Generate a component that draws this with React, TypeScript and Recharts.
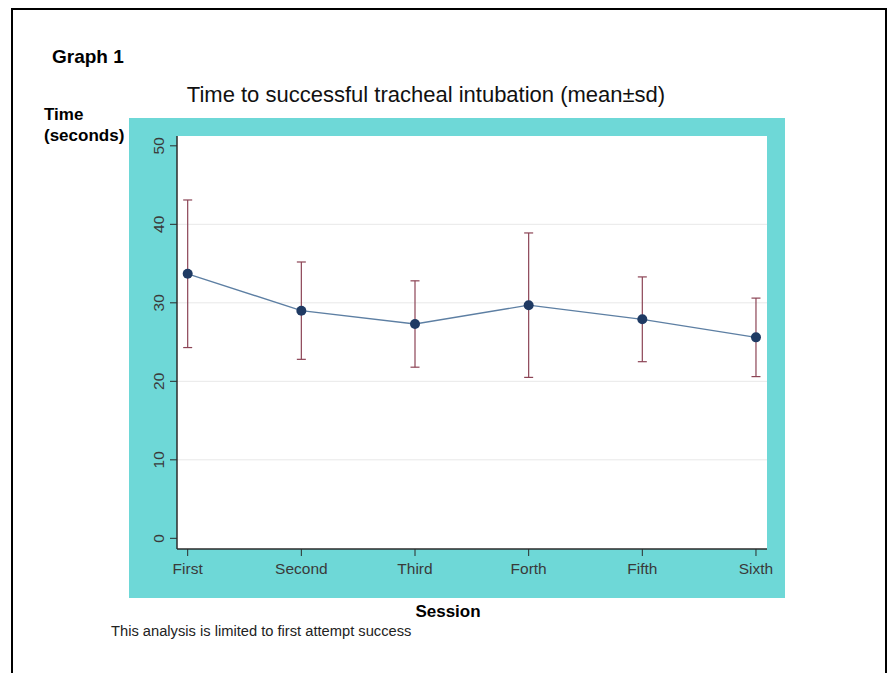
import React from 'react';
import { ComposedChart, Line, XAxis, YAxis, CartesianGrid, ErrorBar } from 'recharts';

const sessions = ['First', 'Second', 'Third', 'Forth', 'Fifth', 'Sixth'];
const meanTime = [33.7, 29.0, 27.3, 29.7, 27.9, 25.6];
const sdTime = [9.4, 6.2, 5.5, 9.2, 5.4, 5.0];
const yTicks = [0, 10, 20, 30, 40, 50];
const gridValues = [10, 20, 30, 40];

const data = sessions.map((s, i) => ({ idx: i, session: s, mean: meanTime[i], sd: sdTime[i] }));

const FONT = '"Liberation Sans", Arial, Helvetica, sans-serif';

const YTick = (props: any) => {
  const { x, y, payload } = props;
  const cx = x - 9;
  return (
    <text
      x={cx}
      y={y}
      transform={`rotate(-90, ${cx}, ${y})`}
      textAnchor="middle"
      dominantBaseline="central"
      fontFamily={FONT}
      fontSize={15.5}
      fill="#3a3a3a"
    >
      {payload.value}
    </text>
  );
};

const XTick = (props: any) => {
  const { x, y, payload } = props;
  return (
    <text
      x={x}
      y={y + 10}
      textAnchor="middle"
      dominantBaseline="central"
      fontFamily={FONT}
      fontSize={15.5}
      fill="#3a3a3a"
    >
      {sessions[payload.value]}
    </text>
  );
};

export default function App() {
  return (
    <div
      style={{
        position: 'absolute',
        left: 0,
        top: 0,
        width: 896,
        height: 673,
        overflow: 'hidden',
        background: '#ffffff',
        fontFamily: FONT,
      }}
    >
      <div
        style={{
          position: 'absolute',
          left: 11,
          top: 8,
          width: 872,
          height: 700,
          borderLeft: '2px solid #000',
          borderTop: '2px solid #000',
          borderRight: '2px solid #000',
        }}
      />
      <div
        style={{
          position: 'absolute',
          left: 129,
          top: 118,
          width: 656,
          height: 480,
          background: '#6ED8D7',
        }}
      />
      <div style={{ position: 'absolute', left: 0, top: 0 }}>
        <ComposedChart
          width={896}
          height={673}
          data={data}
          margin={{ top: 136, right: 129, bottom: 94, left: 137 }}
        >
          <CartesianGrid
            fill="#ffffff"
            vertical={false}
            horizontalValues={gridValues}
            stroke="#e8e8e8"
            strokeWidth={1}
          />
          <XAxis
            dataKey="idx"
            type="number"
            domain={[-0.094, 5.097]}
            ticks={[0, 1, 2, 3, 4, 5]}
            allowDataOverflow
            height={30}
            tickSize={7}
            tick={<XTick />}
            axisLine={{ stroke: '#2b2b2b', strokeWidth: 1.5 }}
            tickLine={{ stroke: '#2b2b2b', strokeWidth: 1 }}
          />
          <YAxis
            type="number"
            domain={[-1.36, 51.25]}
            ticks={yTicks}
            allowDataOverflow
            width={40}
            tickSize={7}
            tick={<YTick />}
            axisLine={{ stroke: '#2b2b2b', strokeWidth: 1.5 }}
            tickLine={{ stroke: '#2b2b2b', strokeWidth: 1 }}
          />
          <Line
            dataKey="mean"
            type="linear"
            stroke="#5D7FA3"
            strokeWidth={1.3}
            dot={{ r: 5, fill: '#1F3A63', stroke: '#1F3A63', strokeWidth: 0 }}
            activeDot={false}
            isAnimationActive={false}
          >
            <ErrorBar dataKey="sd" width={4.5} stroke="#8C4455" strokeWidth={1.2} direction="y" />
          </Line>
        </ComposedChart>
      </div>
      <div
        style={{
          position: 'absolute',
          left: 52,
          top: 46,
          fontSize: 19,
          fontWeight: 'bold',
          color: '#000',
          whiteSpace: 'nowrap',
        }}
      >
        Graph 1
      </div>
      <div
        style={{
          position: 'absolute',
          left: 0,
          width: 852,
          top: 82,
          textAlign: 'center',
          fontSize: 22,
          color: '#111',
          whiteSpace: 'nowrap',
        }}
      >
        Time to successful tracheal intubation (mean±sd)
      </div>
      <div
        style={{
          position: 'absolute',
          left: 44,
          top: 104,
          fontSize: 17,
          lineHeight: '21px',
          fontWeight: 'bold',
          color: '#000',
          whiteSpace: 'nowrap',
        }}
      >
        Time
        <br />
        (seconds)
      </div>
      <div
        style={{
          position: 'absolute',
          left: 0,
          width: 896,
          top: 602,
          textAlign: 'center',
          fontSize: 17,
          fontWeight: 'bold',
          color: '#000',
          whiteSpace: 'nowrap',
        }}
      >
        Session
      </div>
      <div
        style={{
          position: 'absolute',
          left: 111,
          top: 623,
          fontSize: 14.7,
          color: '#222',
          whiteSpace: 'nowrap',
        }}
      >
        This analysis is limited to first attempt success
      </div>
    </div>
  );
}
